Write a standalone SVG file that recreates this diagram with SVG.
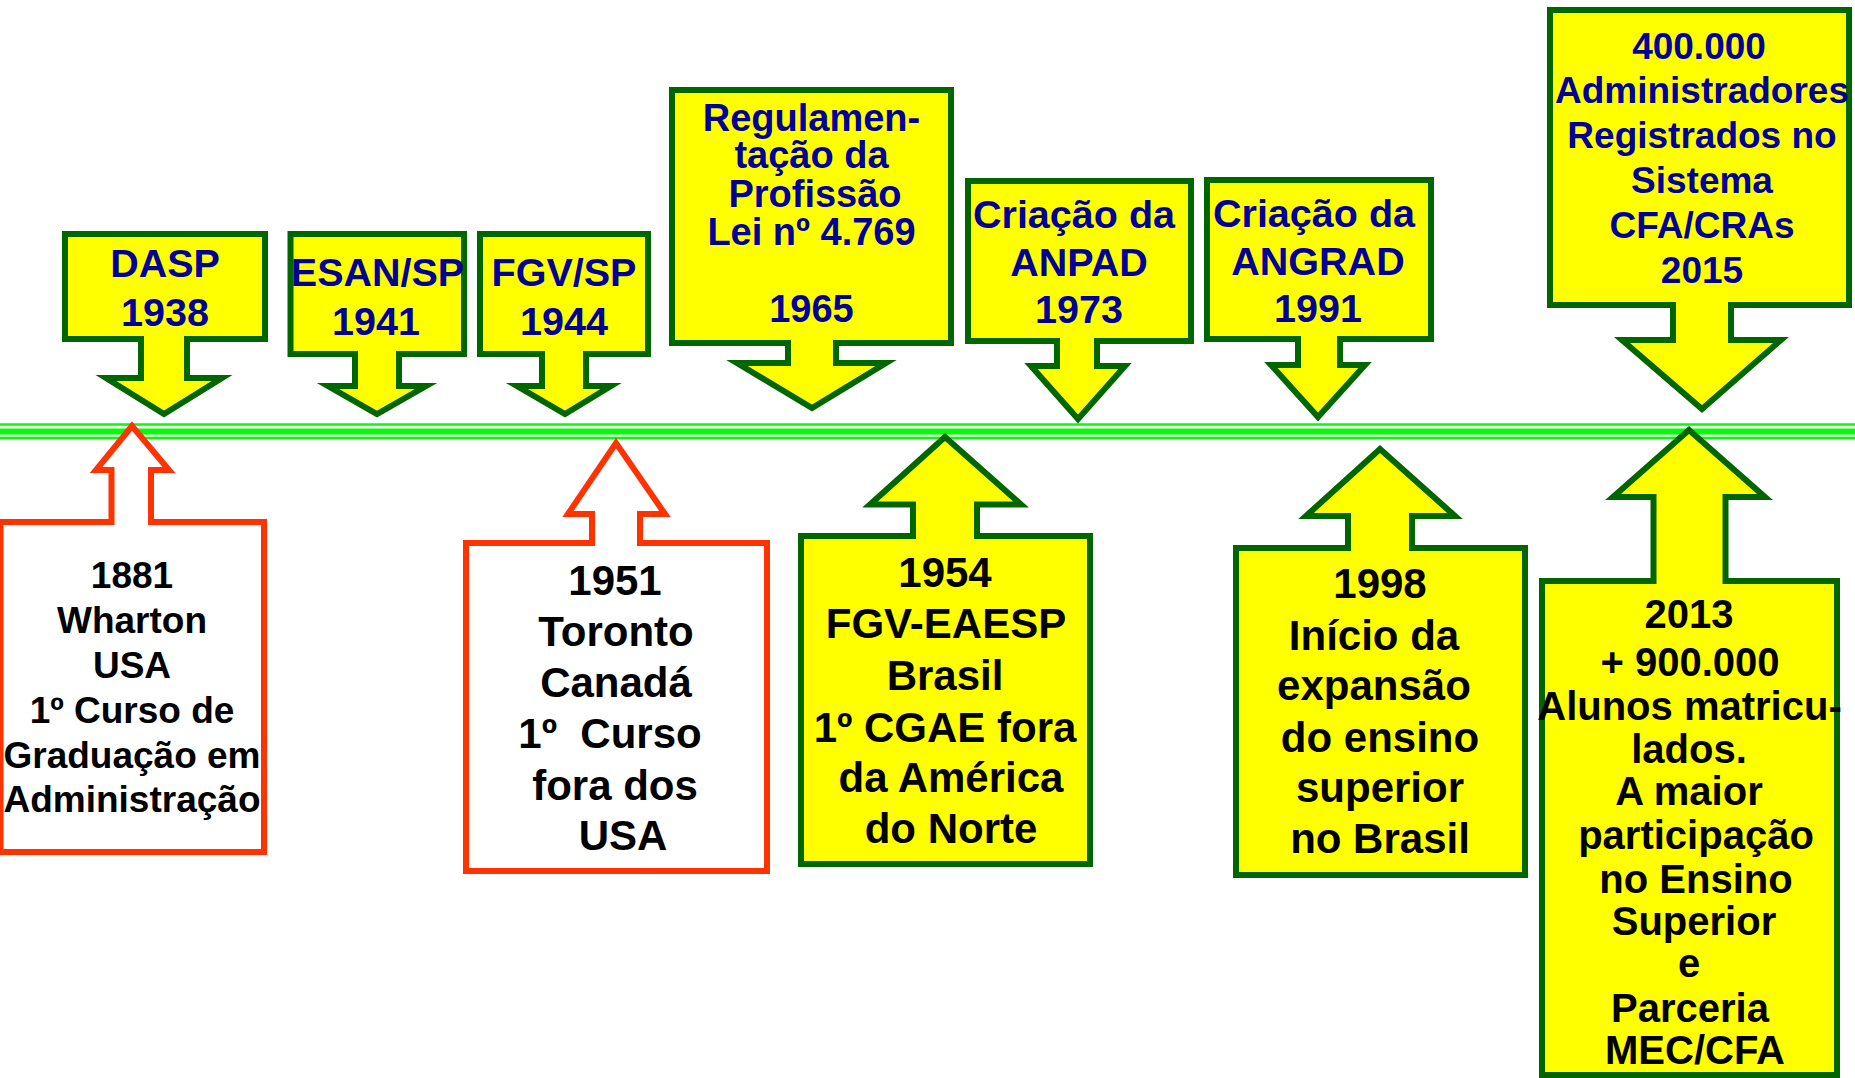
<svg xmlns="http://www.w3.org/2000/svg" width="1855" height="1078" viewBox="0 0 1855 1078">
<style>
.g{fill:#FFFF00;stroke:#006600;stroke-width:6;stroke-linejoin:miter;stroke-miterlimit:10}
.r{fill:#FFFFFF;stroke:#FF3300;stroke-width:6;stroke-linejoin:miter;stroke-miterlimit:10}
.ln{stroke:#00FF00;fill:none}
text{font-family:"Liberation Sans",Arial,sans-serif;font-weight:bold;text-anchor:middle;white-space:pre}
.b{fill:#000099;font-size:39.5px}
.k{fill:#000000;font-size:42px}
.w{font-size:37px}
.s{font-size:40px}
.t{font-size:37px}
.rg{font-size:38px}
</style>
<rect x="0" y="0" width="1855" height="1078" fill="#FFFFFF"/>
<g id="timeline">
<line class="ln" x1="0" y1="424.5" x2="1855" y2="424.5" stroke-width="2.5"/>
<line class="ln" x1="0" y1="431.5" x2="1855" y2="431.5" stroke-width="6"/>
<line class="ln" x1="0" y1="438" x2="1855" y2="438" stroke-width="2.5"/>
</g>
<g id="n1938">
<path class="g" d="M65,234 H265 V339 H187 V378 H222 L164,414 L106,378 H141 V339 H65 Z"/>
<text class="b" x="165" y="277">DASP</text>
<text class="b" x="165" y="326">1938</text>
</g>
<g id="n1941">
<path class="g" d="M290.5,234 H464 V354 H399 V386 H426 L377,414 L328,386 H355 V354 H290.5 Z"/>
<text class="b" x="377.5" y="286">ESAN/SP</text>
<text class="b" x="376" y="335">1941</text>
</g>
<g id="n1944">
<path class="g" d="M480,234 H648 V354 H586 V386 H611 L565,414 L517,386 H542 V354 H480 Z"/>
<text class="b" x="564" y="286">FGV/SP</text>
<text class="b" x="564" y="335">1944</text>
</g>
<g id="n1965">
<path class="g" d="M672,90 H951 V343 H836 V363 H886 L812,408 L737,363 H788 V343 H672 Z"/>
<text class="b rg" x="811.5" y="131">Regulamen-</text>
<text class="b rg" x="811.5" y="168">tação da</text>
<text class="b rg" x="815" y="207">Profissão</text>
<text class="b rg" x="811.5" y="245">Lei nº 4.769</text>
<text class="b rg" x="811.5" y="322">1965</text>
</g>
<g id="n1973">
<path class="g" d="M968,181 H1191 V341 H1097 V366 H1125 L1078,419 L1031,366 H1057 V341 H968 Z"/>
<text class="b" x="1074" y="228">Criação da</text>
<text class="b" x="1079" y="276">ANPAD</text>
<text class="b" x="1079" y="323">1973</text>
</g>
<g id="n1991">
<path class="g" d="M1207,180 H1431 V339 H1340 V365 H1365 L1318,417 L1271,365 H1298 V339 H1207 Z"/>
<text class="b" x="1314" y="227">Criação da</text>
<text class="b" x="1318" y="275">ANGRAD</text>
<text class="b" x="1318" y="322">1991</text>
</g>
<g id="n2015">
<path class="g" d="M1550,10 H1849 V305 H1731 V340 H1781 L1702,409 L1622,340 H1673 V305 H1550 Z"/>
<text class="b t" x="1699" y="59">400.000</text>
<text class="b t" x="1702" y="103">Administradores</text>
<text class="b t" x="1702" y="148">Registrados no</text>
<text class="b t" x="1702" y="193">Sistema</text>
<text class="b t" x="1702" y="238">CFA/CRAs</text>
<text class="b t" x="1702" y="283">2015</text>
</g>
<g id="n1881">
<path class="r" d="M0.5,522 H111.5 V470 H96 L132,426 L169,470 H151 V522 H264 V852 H0.5 Z"/>
<text class="k w" x="132" y="588">1881</text>
<text class="k w" x="132" y="633">Wharton</text>
<text class="k w" x="132" y="678">USA</text>
<text class="k w" x="132" y="723">1º Curso de</text>
<text class="k w" x="132" y="768">Graduação em</text>
<text class="k w" x="132" y="812">Administração</text>
</g>
<g id="n1951">
<path class="r" d="M466,543 H592 V514 H568 L616,443 L665,514 H640 V543 H767 V871 H466 Z"/>
<text class="k" x="615" y="595">1951</text>
<text class="k" x="616" y="646">Toronto</text>
<text class="k" x="616" y="697">Canadá</text>
<text class="k" x="610" y="748">1º  Curso</text>
<text class="k" x="615" y="800">fora dos</text>
<text class="k" x="623" y="850">USA</text>
</g>
<g id="n1954">
<path class="g" d="M801,536 H913 V504.5 H870 L945,437 L1021,504.5 H977 V536 H1090 V864 H801 Z"/>
<text class="k" x="945" y="587">1954</text>
<text class="k" x="946" y="638">FGV-EAESP</text>
<text class="k" x="945" y="690">Brasil</text>
<text class="k" x="945" y="742">1º CGAE fora</text>
<text class="k" x="951" y="792">da América</text>
<text class="k" x="951" y="843">do Norte</text>
</g>
<g id="n1998">
<path class="g" d="M1236,548 H1348 V516 H1306 L1380,449 L1455,516 H1412 V548 H1525 V875 H1236 Z"/>
<text class="k" x="1380" y="598">1998</text>
<text class="k" x="1374" y="650">Início da</text>
<text class="k" x="1374" y="700">expansão</text>
<text class="k" x="1380" y="752">do ensino</text>
<text class="k" x="1380" y="802">superior</text>
<text class="k" x="1380" y="853">no Brasil</text>
</g>
<g id="n2013">
<path class="g" d="M1542,581 H1653.5 V497 H1613 L1689,430 L1765,497 H1725.5 V581 H1837 V1075 H1542 Z"/>
<text class="k s" x="1689" y="628">2013</text>
<text class="k s" x="1690" y="676">+ 900.000</text>
<text class="k s" x="1689.5" y="720">Alunos matricu-</text>
<text class="k s" x="1689" y="763">lados.</text>
<text class="k s" x="1689" y="805">A maior</text>
<text class="k s" x="1696" y="849">participação</text>
<text class="k s" x="1696" y="893">no Ensino</text>
<text class="k s" x="1694" y="935">Superior</text>
<text class="k s" x="1689" y="977">e</text>
<text class="k s" x="1690" y="1022">Parceria</text>
<text class="k s" x="1695" y="1064">MEC/CFA</text>
</g>
</svg>
